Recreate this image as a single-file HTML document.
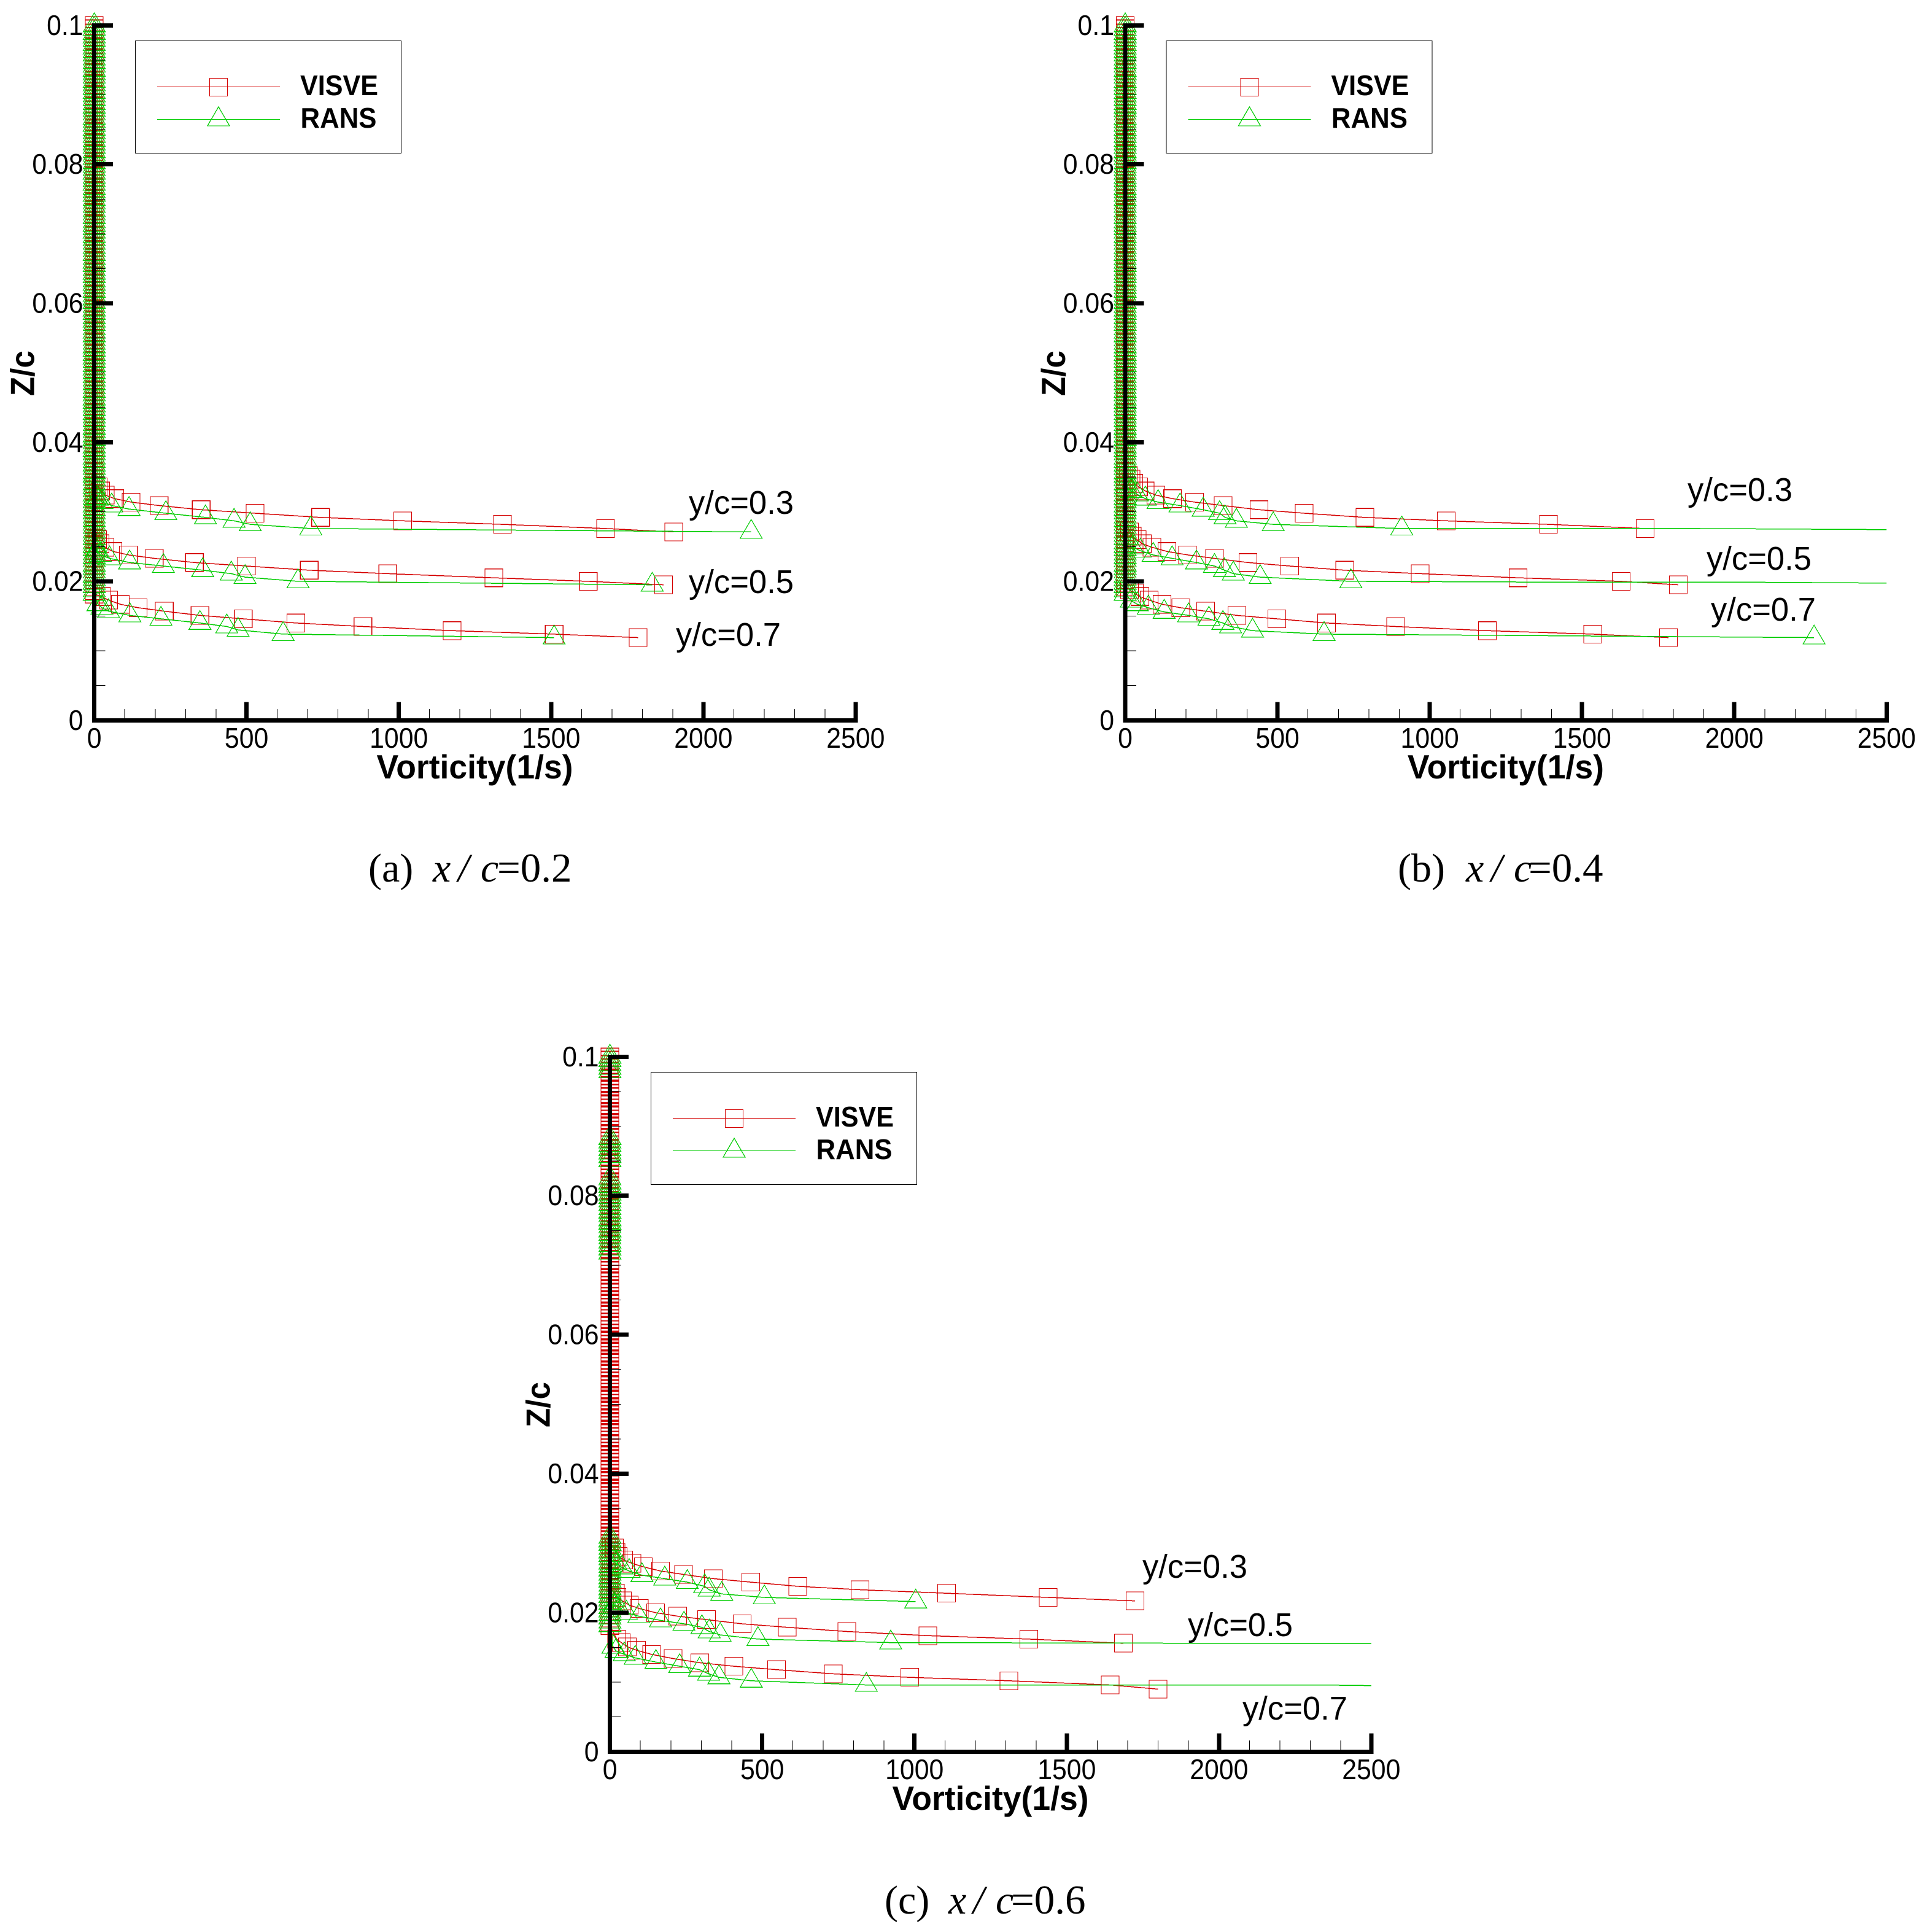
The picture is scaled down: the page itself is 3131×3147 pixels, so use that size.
<!DOCTYPE html>
<html lang="en">
<head>
<meta charset="utf-8">
<title>Vorticity profiles</title>
<style>
html,body{margin:0;padding:0;background:#fff;}
svg{display:block;}
text{font-family:"Liberation Sans",sans-serif;fill:#000;}
.cap{font-family:"Liberation Serif",serif;font-size:66px;}
.leg{font-size:46px;font-weight:bold;}
.crisp{shape-rendering:crispEdges;}
</style>
</head>
<body>
<svg id="chart" xmlns="http://www.w3.org/2000/svg" width="3131" height="3147" viewBox="0 0 3131 3147">
  <rect x="0" y="0" width="3131" height="3147" fill="#fff"/>
  <g id="plots"></g>

  <g transform="translate(0,0)">
    <rect class="crisp" x="220.5" y="66.5" width="433" height="183" fill="#fff" stroke="#000" stroke-width="1.3"/>
    <line class="crisp" x1="256" y1="141.5" x2="456" y2="141.5" stroke="#d40000" stroke-width="1.3"/>
    <rect class="crisp" x="341.5" y="127.5" width="29" height="29" fill="none" stroke="#d40000" stroke-width="1.3"/>
    <text class="leg" x="489" y="155" textLength="127" lengthAdjust="spacingAndGlyphs">VISVE</text>
    <line class="crisp" x1="256" y1="194.5" x2="456" y2="194.5" stroke="#00cc00" stroke-width="1.3"/>
    <polygon class="crisp" points="356,174 374,205 338,205" fill="none" stroke="#00cc00" stroke-width="1.3"/>
    <text class="leg" x="489.5" y="208" textLength="124" lengthAdjust="spacingAndGlyphs">RANS</text>
  </g>
  <g transform="translate(1679.4,0)">
    <rect class="crisp" x="220.5" y="66.5" width="433" height="183" fill="#fff" stroke="#000" stroke-width="1.3"/>
    <line class="crisp" x1="256" y1="141.5" x2="456" y2="141.5" stroke="#d40000" stroke-width="1.3"/>
    <rect class="crisp" x="341.5" y="127.5" width="29" height="29" fill="none" stroke="#d40000" stroke-width="1.3"/>
    <text class="leg" x="489" y="155" textLength="127" lengthAdjust="spacingAndGlyphs">VISVE</text>
    <line class="crisp" x1="256" y1="194.5" x2="456" y2="194.5" stroke="#00cc00" stroke-width="1.3"/>
    <polygon class="crisp" points="356,174 374,205 338,205" fill="none" stroke="#00cc00" stroke-width="1.3"/>
    <text class="leg" x="489.5" y="208" textLength="124" lengthAdjust="spacingAndGlyphs">RANS</text>
  </g>
  <g transform="translate(840,1680)">
    <rect class="crisp" x="220.5" y="66.5" width="433" height="183" fill="#fff" stroke="#000" stroke-width="1.3"/>
    <line class="crisp" x1="256" y1="141.5" x2="456" y2="141.5" stroke="#d40000" stroke-width="1.3"/>
    <rect class="crisp" x="341.5" y="127.5" width="29" height="29" fill="none" stroke="#d40000" stroke-width="1.3"/>
    <text class="leg" x="489" y="155" textLength="127" lengthAdjust="spacingAndGlyphs">VISVE</text>
    <line class="crisp" x1="256" y1="194.5" x2="456" y2="194.5" stroke="#00cc00" stroke-width="1.3"/>
    <polygon class="crisp" points="356,174 374,205 338,205" fill="none" stroke="#00cc00" stroke-width="1.3"/>
    <text class="leg" x="489.5" y="208" textLength="124" lengthAdjust="spacingAndGlyphs">RANS</text>
  </g>

  <text x="1122" y="837" font-size="54" textLength="171" lengthAdjust="spacingAndGlyphs">y/c=0.3</text>
  <text x="1122" y="966" font-size="54" textLength="171" lengthAdjust="spacingAndGlyphs">y/c=0.5</text>
  <text x="1101" y="1052" font-size="54" textLength="171" lengthAdjust="spacingAndGlyphs">y/c=0.7</text>
  <text x="2749" y="816" font-size="54" textLength="171" lengthAdjust="spacingAndGlyphs">y/c=0.3</text>
  <text x="2780" y="928" font-size="54" textLength="171" lengthAdjust="spacingAndGlyphs">y/c=0.5</text>
  <text x="2787" y="1011" font-size="54" textLength="171" lengthAdjust="spacingAndGlyphs">y/c=0.7</text>
  <text x="1861" y="2570" font-size="54" textLength="171" lengthAdjust="spacingAndGlyphs">y/c=0.3</text>
  <text x="1935" y="2665" font-size="54" textLength="171" lengthAdjust="spacingAndGlyphs">y/c=0.5</text>
  <text x="2024" y="2801" font-size="54" textLength="171" lengthAdjust="spacingAndGlyphs">y/c=0.7</text>

  <text class="cap" y="1436"><tspan x="600">(a)</tspan><tspan x="705" font-style="italic">x</tspan><tspan x="746" font-style="italic">/</tspan><tspan x="783" font-style="italic">c</tspan><tspan x="810" font-size="67">=0.2</tspan></text>
  <text class="cap" y="1436"><tspan x="2277">(b)</tspan><tspan x="2388" font-style="italic">x</tspan><tspan x="2429" font-style="italic">/</tspan><tspan x="2466" font-style="italic">c</tspan><tspan x="2490" font-size="67">=0.4</tspan></text>
  <text class="cap" y="3117"><tspan x="1441">(c)</tspan><tspan x="1545" font-style="italic">x</tspan><tspan x="1585" font-style="italic">/</tspan><tspan x="1622" font-style="italic">c</tspan><tspan x="1647" font-size="67">=0.6</tspan></text>
</svg>
<script>
// Axis ticks and labels
const xMajorTicks = [0, 500, 1000, 1500, 2000, 2500];
const xTickLabels = ["0", "500", "1000", "1500", "2000", "2500"];
const xMinorTicks = [100, 200, 300, 400, 600, 700, 800, 900, 1100, 1200, 1300, 1400, 1600, 1700, 1800, 1900, 2100, 2200, 2300, 2400];
const zMajorTicks = [0, 0.02, 0.04, 0.06, 0.08, 0.1];
const zTickLabels = ["0", "0.02", "0.04", "0.06", "0.08", "0.1"];
const zMinorTicks = [0.005, 0.01, 0.015, 0.025, 0.03, 0.035, 0.045, 0.05, 0.055, 0.065, 0.07, 0.075, 0.085, 0.09, 0.095];

// Wall-normal stations of the markers stacked along the axis
const stackZ = [0.1000,0.0995,0.0989,0.0984,0.0979,0.0973,0.0968,0.0963,0.0958,0.0952,0.0947,0.0942,0.0936,0.0931,0.0926,0.0920,0.0915,0.0910,0.0904,0.0899,0.0894,0.0888,0.0883,0.0878,0.0873,0.0867,0.0862,0.0857,0.0851,0.0846,0.0841,0.0835,0.0830,0.0825,0.0819,0.0814,0.0809,0.0803,0.0798,0.0793,0.0788,0.0782,0.0777,0.0772,0.0766,0.0761,0.0756,0.0750,0.0745,0.0740,0.0734,0.0729,0.0724,0.0718,0.0713,0.0708,0.0703,0.0697,0.0692,0.0687,0.0681,0.0676,0.0671,0.0665,0.0660,0.0655,0.0649,0.0644,0.0639,0.0633,0.0628,0.0623,0.0618,0.0612,0.0607,0.0602,0.0596,0.0591,0.0586,0.0580,0.0575,0.0570,0.0564,0.0559,0.0554,0.0548,0.0543,0.0538,0.0533,0.0527,0.0522,0.0517,0.0511,0.0506,0.0501,0.0495,0.0490,0.0485,0.0479,0.0474,0.0469,0.0463,0.0458,0.0453,0.0448,0.0442,0.0437,0.0432,0.0426,0.0421,0.0416,0.0410,0.0405,0.0400,0.0394,0.0389,0.0384,0.0378,0.0373,0.0368,0.0363,0.0357,0.0352,0.0347,0.0341,0.0336,0.0331,0.0325,0.0320,0.0315,0.0309,0.0304,0.0299,0.0293,0.0288,0.0283,0.0278,0.0272,0.0267,0.0262,0.0256,0.0251,0.0246,0.0240,0.0235,0.0230,0.0224,0.0219,0.0214,0.0208,0.0203,0.0198,0.0193,0.0187,0.0182];
const redStackShift = [0, 0.00003, -0.00005];
const fullBand = [[0.1001, 0]];
const cGreenBands = [[0.1001, 0.0975], [0.0884, 0.0851], [0.0825, 0.0716], [0.0310, 0]];

// Panel a, x/c=0.2
const aVisve3Vort = [13, 21, 36, 67, 121, 213, 351, 528, 743, 1013, 1340, 1679, 1903];
const aVisve3Z = [0.0336, 0.0330, 0.0324, 0.0319, 0.0314, 0.0309, 0.0303, 0.0298, 0.0292, 0.0287, 0.0282, 0.0276, 0.0271];
const aRans3Vort = [10, 25, 57, 114, 235, 365, 459, 512, 711, 2157];
const aRans3Z = [0.0319, 0.0314, 0.0309, 0.0304, 0.0298, 0.0292, 0.0287, 0.0282, 0.0276, 0.0271];
const aVisve5Vort = [11, 19, 35, 61, 112, 197, 329, 500, 706, 964, 1312, 1622, 1869];
const aVisve5Z = [0.0260, 0.0254, 0.0249, 0.0243, 0.0238, 0.0233, 0.0227, 0.0222, 0.0216, 0.0211, 0.0205, 0.0200, 0.0195];
const aRans5Vort = [8, 20, 50, 116, 227, 356, 450, 495, 669, 1832];
const aRans5Z = [0.0244, 0.0238, 0.0233, 0.0227, 0.0222, 0.0216, 0.0211, 0.0206, 0.0200, 0.0195];
const aVisve7Vort = [24, 47, 85, 144, 230, 347, 489, 662, 882, 1175, 1510, 1786];
const aVisve7Z = [0.0178, 0.0173, 0.0167, 0.0162, 0.0157, 0.0151, 0.0146, 0.0140, 0.0135, 0.0129, 0.0124, 0.0119];
const aRans7Vort = [12, 25, 47, 117, 219, 347, 435, 472, 620, 1510];
const aRans7Z = [0.0167, 0.0162, 0.0157, 0.0151, 0.0146, 0.0140, 0.0135, 0.0130, 0.0124, 0.0119];

// Panel b, x/c=0.4
const bVisve3Vort = [10, 19, 28, 44, 66, 101, 155, 228, 322, 439, 588, 787, 1054, 1390, 1707];
const bVisve3Z = [0.0352, 0.0347, 0.0341, 0.0336, 0.0330, 0.0324, 0.0319, 0.0314, 0.0309, 0.0303, 0.0298, 0.0292, 0.0287, 0.0282, 0.0276];
const bRans3Vort = [20, 40, 66, 108, 180, 256, 310, 328, 365, 486, 908];
const bRans3Z = [0.0330, 0.0325, 0.0319, 0.0314, 0.0309, 0.0303, 0.0298, 0.0292, 0.0287, 0.0282, 0.0276];
const bRans3TailVort = [1850, 2650];
const bRans3TailZ = [0.0276, 0.0274];
const bVisve5Vort = [14, 23, 39, 56, 88, 137, 205, 293, 403, 540, 721, 969, 1290, 1629, 1816];
const bVisve5Z = [0.0271, 0.0265, 0.0260, 0.0254, 0.0249, 0.0243, 0.0238, 0.0233, 0.0227, 0.0222, 0.0216, 0.0211, 0.0205, 0.0200, 0.0195];
const bRans5Vort = [25, 50, 92, 154, 234, 293, 326, 355, 443, 741];
const bRans5Z = [0.0249, 0.0244, 0.0238, 0.0233, 0.0227, 0.0222, 0.0216, 0.0211, 0.0206, 0.0200];
const bRans5TailVort = [1283, 1950, 2650];
const bRans5TailZ = [0.0199, 0.0199, 0.0197];
const bVisve7Vort = [14, 30, 48, 79, 121, 182, 264, 367, 498, 661, 888, 1189, 1535, 1784];
const bVisve7Z = [0.0188, 0.0183, 0.0178, 0.0173, 0.0167, 0.0162, 0.0157, 0.0151, 0.0146, 0.0140, 0.0135, 0.0129, 0.0124, 0.0119];
const bRans7Vort = [20, 40, 76, 128, 208, 275, 321, 346, 418, 653, 2262];
const bRans7Z = [0.0172, 0.0167, 0.0162, 0.0156, 0.0151, 0.0146, 0.0140, 0.0135, 0.0129, 0.0124, 0.0119];

// Panel c, x/c=0.6
const cVisve3Vort = [15, 20, 27, 45, 72, 110, 166, 242, 339, 462, 617, 821, 1105, 1439, 1724];
const cVisve3Z = [0.0293, 0.0287, 0.0281, 0.0276, 0.0271, 0.0266, 0.0260, 0.0255, 0.0249, 0.0244, 0.0238, 0.0233, 0.0228, 0.0222, 0.0217];
const cRans3Vort = [20, 40, 63, 105, 180, 254, 311, 326, 367, 507, 1004];
const cRans3Z = [0.0271, 0.0265, 0.0260, 0.0254, 0.0249, 0.0244, 0.0238, 0.0233, 0.0227, 0.0222, 0.0216];
const cVisve5Vort = [18, 23, 41, 63, 97, 150, 223, 317, 434, 582, 778, 1044, 1376, 1686];
const cVisve5Z = [0.0228, 0.0222, 0.0217, 0.0211, 0.0206, 0.0200, 0.0195, 0.0190, 0.0184, 0.0179, 0.0173, 0.0167, 0.0162, 0.0156];
const cRans5Vort = [15, 30, 54, 95, 166, 243, 302, 326, 362, 486, 922];
const cRans5Z = [0.0211, 0.0206, 0.0200, 0.0195, 0.0189, 0.0184, 0.0179, 0.0173, 0.0168, 0.0162, 0.0157];
const cRans5TailVort = [2010, 2700];
const cRans5TailZ = [0.0156, 0.0155];
const cVisve7Vort = [22, 37, 57, 87, 137, 207, 295, 407, 547, 734, 984, 1310, 1643, 1800];
const cVisve7Z = [0.0162, 0.0157, 0.0151, 0.0146, 0.0140, 0.0134, 0.0128, 0.0123, 0.0118, 0.0112, 0.0107, 0.0102, 0.0096, 0.0090];
const cRans7Vort = [10, 20, 47, 83, 151, 229, 294, 324, 358, 464, 842];
const cRans7Z = [0.0151, 0.0145, 0.0140, 0.0135, 0.0129, 0.0123, 0.0118, 0.0112, 0.0107, 0.0102, 0.0096];
const cRans7TailVort = [2329, 2700];
const cRans7TailZ = [0.0096, 0.0094];
const noTail = [];

const panels = [
  {key: "a", x0: 153.6, y0: 1173.3, titleX: 613.5, titleY: 1268, zTitleY: 645,
   visve: [[aVisve3Vort, aVisve3Z, noTail, noTail], [aVisve5Vort, aVisve5Z, noTail, noTail], [aVisve7Vort, aVisve7Z, noTail, noTail]],
   rans: [[aRans3Vort, aRans3Z, noTail, noTail], [aRans5Vort, aRans5Z, noTail, noTail], [aRans7Vort, aRans7Z, noTail, noTail]], ransBands: fullBand},
  {key: "b", x0: 1833, y0: 1173.3, titleX: 2292.9, titleY: 1268, zTitleY: 645,
   visve: [[bVisve3Vort, bVisve3Z, noTail, noTail], [bVisve5Vort, bVisve5Z, noTail, noTail], [bVisve7Vort, bVisve7Z, noTail, noTail]],
   rans: [[bRans3Vort, bRans3Z, bRans3TailVort, bRans3TailZ], [bRans5Vort, bRans5Z, bRans5TailVort, bRans5TailZ], [bRans7Vort, bRans7Z, noTail, noTail]], ransBands: fullBand},
  {key: "c", x0: 993.6, y0: 2853.3, titleX: 1453.5, titleY: 2948, zTitleY: 2325,
   visve: [[cVisve3Vort, cVisve3Z, noTail, noTail], [cVisve5Vort, cVisve5Z, noTail, noTail], [cVisve7Vort, cVisve7Z, noTail, noTail]],
   rans: [[cRans3Vort, cRans3Z, noTail, noTail], [cRans5Vort, cRans5Z, cRans5TailVort, cRans5TailZ], [cRans7Vort, cRans7Z, cRans7TailVort, cRans7TailZ]], ransBands: cGreenBands}
];

const RED = "#d40000";
const GREEN = "#00cc00";
const PX_PER_VORT = 0.4961;
const PX_PER_Z = 11320;
const NS = "http://www.w3.org/2000/svg";
const plots = document.getElementById("plots");

function xScale(panel, v) { return panel.x0 + v * PX_PER_VORT; }
function yScale(panel, z) { return panel.y0 - z * PX_PER_Z; }

function make(tag, attrs, parent) {
  const el = document.createElementNS(NS, tag);
  for (const k in attrs) el.setAttribute(k, attrs[k]);
  parent.appendChild(el);
  return el;
}

function stackFor(bands, shift, tailTopZ) {
  const out = [];
  for (const z of stackZ) {
    if (z <= tailTopZ + 0.0002) continue;
    if (bands.some(b => z <= b[0] && z >= b[1])) out.push(Math.min(z + shift, 0.1));
  }
  return out;
}

function drawSquare(g, px, py) {
  const el = make("rect", {x: (px - 14.5).toFixed(1), y: (py - 14.5).toFixed(1), width: 29, height: 29, fill: "none", stroke: RED, "stroke-width": 1.1}, g);
  
  
}

function drawTriangle(g, px, py) {
  const pts = px.toFixed(1) + "," + (py - 20.3).toFixed(1) + " " + (px + 18).toFixed(1) + "," + (py + 10.5).toFixed(1) + " " + (px - 18).toFixed(1) + "," + (py + 10.5).toFixed(1);
  const el = make("polygon", {points: pts, fill: "none", stroke: GREEN, "stroke-width": 1.2}, g);
  
  
}

function drawCurve(panel, parent, rec, bands, shift, color, drawMarker, name) {
  const vort = rec[0], zs = rec[1], tailVort = rec[2], tailZ = rec[3];
  const g = make("g", {}, parent);
  
  
  const stack = stackFor(bands, shift, zs[0]);
  const pts = [];
  stack.forEach(z => pts.push([xScale(panel, 0), yScale(panel, z)]));
  vort.forEach((v, i) => pts.push([xScale(panel, v), yScale(panel, zs[i])]));
  const linePts = pts.slice();
  tailVort.forEach((v, i) => linePts.push([xScale(panel, v), yScale(panel, tailZ[i])]));
  const line = make("polyline", {points: linePts.map(p => p[0].toFixed(1) + "," + p[1].toFixed(1)).join(" "), fill: "none", stroke: color, "stroke-width": 1.5}, g);
  
  
  pts.forEach(p => drawMarker(g, p[0], p[1]));
}

function label(parent, x, y, str, anchor, name) {
  const el = make("text", {transform: "translate(" + x + " " + y + ") scale(.93 1)", "font-size": 46, "text-anchor": anchor, "shape-rendering": "auto"}, parent);
  el.textContent = str;
  
  
}

panels.forEach(panel => {
  const group = make("g", {"shape-rendering": "crispEdges"}, plots);
  
  

  const clipId = "clip-" + panel.key;
  const clip = make("clipPath", {id: clipId}, group);
  make("rect", {x: panel.x0 - 60, y: yScale(panel, 0.1) - 60, width: xScale(panel, 2500) - panel.x0 + 60, height: 1300}, clip);

  const series = make("g", {"clip-path": "url(#" + clipId + ")"}, group);
  
  
  ["0.3", "0.5", "0.7"].forEach((st, i) => {
    drawCurve(panel, series, panel.visve[i], fullBand, redStackShift[i], RED, drawSquare, "visve-curve-y" + st);
  });
  ["0.3", "0.5", "0.7"].forEach((st, i) => {
    drawCurve(panel, series, panel.rans[i], panel.ransBands, 0, GREEN, drawTriangle, "rans-curve-y" + st);
  });

  const x0 = panel.x0, y0 = panel.y0, xEnd = xScale(panel, 2500), yTop = yScale(panel, 0.1);
  const xAxis = make("rect", {x: x0 - 3.5, y: y0 - 3.5, width: xEnd - x0 + 7, height: 7, fill: "#000"}, group);
  
  
  const yAxis = make("rect", {x: x0 - 3.5, y: yTop - 3.5, width: 7, height: y0 - yTop + 7, fill: "#000"}, group);
  
  

  xMajorTicks.forEach((v, i) => {
    const px = xScale(panel, v);
    const t = make("rect", {x: px - 3.5, y: y0 - 30, width: 7, height: 30, fill: "#000"}, group);
    
    
    label(group, px.toFixed(1), y0 + 44.5, xTickLabels[i], "middle", "x-tick-label");
  });
  xMinorTicks.forEach(v => {
    const t = make("rect", {x: xScale(panel, v) - 0.5, y: y0 - 18.5, width: 1, height: 18.5, fill: "#000"}, group);
    
    
  });
  zMajorTicks.forEach((z, i) => {
    const py = yScale(panel, z);
    const t = make("rect", {x: x0, y: py - 3.5, width: 30.5, height: 7, fill: "#000"}, group);
    
    
    label(group, x0 - 18, (py + 15.5).toFixed(1), zTickLabels[i], "end", "y-tick-label");
  });
  zMinorTicks.forEach(z => {
    const t = make("rect", {x: x0, y: yScale(panel, z) - 0.5, width: 17.8, height: 1, fill: "#000"}, group);
    
    
  });

  const xTitle = make("text", {x: panel.titleX, y: panel.titleY, "font-size": 55, "font-weight": "bold", textLength: 320, lengthAdjust: "spacingAndGlyphs"}, group);
  xTitle.textContent = "Vorticity(1/s)";
  
  

  const zX = panel.x0 - 98;
  const zTitle = make("text", {transform: "translate(" + zX + " " + panel.zTitleY + ") rotate(-90)", "font-size": 55, "font-weight": "bold", textLength: 74, lengthAdjust: "spacingAndGlyphs"}, group);
  zTitle.textContent = "Z/c";
  
  
});
</script>
</body>
</html>
